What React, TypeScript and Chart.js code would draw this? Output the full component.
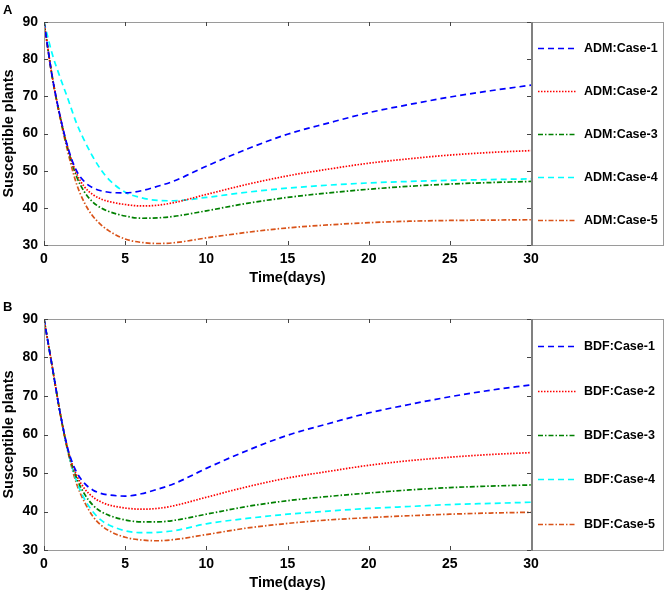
import React, { useRef, useEffect } from 'react';
import { Chart, registerables } from 'chart.js';

Chart.register(...registerables);

const days = [0, 0.5, 1, 1.5, 2, 2.5, 3, 3.5, 4, 5, 6, 7, 8, 10, 12.5, 15, 17.5, 20, 22.5, 25, 27.5, 30];
const xTicks = [0, 5, 10, 15, 20, 25, 30];
const yTicks = [30, 40, 50, 60, 70, 80, 90];

// panel A: ADM
const admCase1 = [90, 75.5, 64.5, 55.8, 50.0, 47.0, 45.4, 44.6, 44.2, 44.0, 44.6, 45.8, 47.2, 51.2, 55.8, 59.8, 62.8, 65.6, 67.8, 69.8, 71.5, 73.0];
const admCase2 = [90, 75.5, 64.5, 55.6, 49.3, 45.6, 43.6, 42.4, 41.7, 40.9, 40.5, 40.7, 41.4, 43.6, 46.3, 48.6, 50.4, 52.0, 53.2, 54.2, 54.9, 55.4];
const admCase3 = [90, 75.5, 64.4, 55.4, 48.5, 44.2, 41.6, 40.0, 39.0, 37.8, 37.2, 37.3, 37.7, 39.2, 41.2, 42.8, 44.0, 45.0, 45.8, 46.4, 46.8, 47.1];
const admCase4 = [90, 81.5, 75.0, 69.0, 62.8, 58.0, 53.8, 50.3, 47.6, 44.2, 42.7, 42.0, 41.9, 42.8, 44.2, 45.3, 46.1, 46.7, 47.1, 47.4, 47.6, 47.8];
const admCase5 = [90, 75.3, 64.0, 54.5, 46.5, 41.3, 37.8, 35.5, 33.8, 31.6, 30.7, 30.4, 30.6, 31.9, 33.4, 34.6, 35.4, 36.0, 36.4, 36.6, 36.7, 36.8];

// panel B: BDF
const bdfCase1 = [90, 77.8, 65.5, 55.8, 50.3, 47.3, 45.6, 44.7, 44.3, 44.0, 44.6, 45.8, 47.2, 51.2, 55.8, 59.8, 62.8, 65.6, 67.8, 69.8, 71.5, 72.9];
const bdfCase2 = [90, 77.8, 65.5, 55.6, 49.5, 45.9, 43.8, 42.5, 41.7, 40.9, 40.6, 40.8, 41.5, 43.7, 46.4, 48.7, 50.4, 52.0, 53.2, 54.1, 54.8, 55.3];
const bdfCase3 = [90, 77.8, 65.5, 55.4, 48.8, 44.5, 41.7, 40.0, 39.0, 37.8, 37.3, 37.3, 37.7, 39.3, 41.3, 42.8, 43.9, 44.8, 45.6, 46.2, 46.6, 46.9];
const bdfCase4 = [90, 77.8, 65.4, 55.2, 48.0, 43.2, 40.0, 37.8, 36.5, 35.0, 34.5, 34.6, 35.0, 36.8, 38.2, 39.3, 40.1, 40.8, 41.3, 41.8, 42.1, 42.4];
const bdfCase5 = [90, 77.8, 65.3, 55.0, 47.3, 42.4, 38.8, 36.5, 35.0, 33.3, 32.6, 32.4, 32.7, 34.0, 35.7, 36.9, 37.8, 38.4, 38.9, 39.3, 39.6, 39.8];

const caseNames = ['Case-1', 'Case-2', 'Case-3', 'Case-4', 'Case-5'];
const caseColors = ['#0000ff', '#ff0000', '#008000', '#00ffff', '#d95319'];
const caseDashes = [[6, 4], [1.5, 1.5], [5, 2, 1.5, 2], [6, 4], [5, 2, 1.5, 2]];

const FONT = '"Liberation Sans", Arial, sans-serif';
Chart.defaults.font.family = FONT;

const framePlugin = (letter: string) => ({
  id: 'frame',
  afterDraw(chart: any) {
    const { ctx, chartArea: a, scales } = chart;
    ctx.save();

    // plot frame
    ctx.strokeStyle = '#9a9a9a';
    ctx.lineWidth = 1;
    ctx.strokeRect(a.left + 0.5, a.top + 0.5, a.width, a.height);

    // inward ticks on all four sides
    ctx.strokeStyle = '#444';
    ctx.lineWidth = 1;
    ctx.beginPath();
    xTicks.forEach((v) => {
      const px = Math.round(scales.x.getPixelForValue(v)) + 0.5;
      ctx.moveTo(px, a.bottom);
      ctx.lineTo(px, a.bottom - 4);
      ctx.moveTo(px, a.top);
      ctx.lineTo(px, a.top + 4);
    });
    yTicks.forEach((v) => {
      const py = Math.round(scales.y.getPixelForValue(v)) + 0.5;
      ctx.moveTo(a.left, py);
      ctx.lineTo(a.left + 4, py);
      ctx.moveTo(a.right, py);
      ctx.lineTo(a.right - 4, py);
    });
    ctx.stroke();

    // legend box
    const lx = a.right + 1;
    const lw = chart.width - 3 - lx;
    ctx.strokeStyle = '#9a9a9a';
    ctx.strokeRect(lx + 0.5, a.top + 0.5, lw, a.height);
    ctx.strokeStyle = '#808080';
    ctx.lineWidth = 2;
    ctx.beginPath();
    ctx.moveTo(a.right + 1, a.top);
    ctx.lineTo(a.right + 1, a.bottom + 1);
    ctx.stroke();

    ctx.font = `bold 12.5px ${FONT}`;
    ctx.textBaseline = 'middle';
    ctx.textAlign = 'left';
    chart.data.datasets.forEach((ds: any, i: number) => {
      const y = Math.round(a.top + a.height * (0.118 + 0.192 * i)) + 0.5;
      ctx.strokeStyle = ds.borderColor;
      ctx.lineWidth = ds.borderWidth;
      ctx.setLineDash(ds.borderDash);
      ctx.beginPath();
      ctx.moveTo(lx + 6, y);
      ctx.lineTo(lx + 44, y);
      ctx.stroke();
      ctx.setLineDash([]);
      ctx.fillStyle = '#000';
      ctx.fillText(ds.label, lx + 52, y);
    });

    // panel letter
    ctx.font = `bold 13px ${FONT}`;
    ctx.fillText(letter, 3, 10);
    ctx.restore();
  },
});

type PanelProps = {
  letter: string;
  prefix: string;
  series: number[][];
  axisHeight: number;
  titlePad: number;
};

const Panel: React.FC<PanelProps> = ({ letter, prefix, series, axisHeight, titlePad }) => {
  const canvasRef = useRef<HTMLCanvasElement | null>(null);
  const chartRef = useRef<Chart | null>(null);

  useEffect(() => {
    const ctx = canvasRef.current?.getContext('2d');
    if (!ctx) return;
    if (chartRef.current) chartRef.current.destroy();

    chartRef.current = new Chart(ctx, {
      type: 'line',
      data: {
        datasets: series.map((vals, i) => ({
          label: `${prefix}:${caseNames[i]}`,
          data: days.map((d, j) => ({ x: d, y: vals[j] })),
          borderColor: caseColors[i],
          borderDash: caseDashes[i],
          borderWidth: 1.7,
          pointRadius: 0,
          fill: false,
          cubicInterpolationMode: 'monotone',
        })),
      },
      options: {
        animation: false,
        responsive: false,
        events: [],
        layout: { padding: { top: 22, right: 135, left: 0, bottom: 0 } },
        plugins: { legend: { display: false }, tooltip: { enabled: false } },
        scales: {
          x: {
            type: 'linear',
            min: 0,
            max: 30,
            afterFit: (s: any) => { s.height = axisHeight; },
            afterBuildTicks: (s: any) => { s.ticks = xTicks.map((v) => ({ value: v })); },
            grid: { display: false, drawTicks: false },
            border: { display: false },
            ticks: { color: '#000', padding: 6, maxRotation: 0, font: { size: 14, weight: 'bold' } },
            title: {
              display: true,
              text: 'Time(days)',
              color: '#000',
              font: { size: 14.5, weight: 'bold' },
              padding: { top: 0, bottom: titlePad },
            },
          },
          y: {
            min: 30,
            max: 90,
            afterFit: (s: any) => { s.width = 44; },
            afterBuildTicks: (s: any) => { s.ticks = yTicks.map((v) => ({ value: v })); },
            grid: { display: false, drawTicks: false },
            border: { display: false },
            ticks: { color: '#000', padding: 6, font: { size: 14, weight: 'bold' } },
            title: {
              display: true,
              text: 'Susceptible plants',
              color: '#000',
              font: { size: 14.5, weight: 'bold' },
              padding: { top: 0, bottom: 0 },
            },
          },
        },
      },
      plugins: [framePlugin(letter)],
    } as any);

    return () => {
      if (chartRef.current) {
        chartRef.current.destroy();
        chartRef.current = null;
      }
    };
  }, [letter, prefix, series, axisHeight, titlePad]);

  return <canvas ref={canvasRef} width={666} height={297} style={{ display: 'block' }} />;
};

const admSeries = [admCase1, admCase2, admCase3, admCase4, admCase5];
const bdfSeries = [bdfCase1, bdfCase2, bdfCase3, bdfCase4, bdfCase5];

const App: React.FC = () => (
  <div style={{ position: 'absolute', left: 0, top: 0, width: 666, height: 594, background: '#fff' }}>
    <Panel letter="A" prefix="ADM" series={admSeries} axisHeight={52} titlePad={10} />
    <Panel letter="B" prefix="BDF" series={bdfSeries} axisHeight={44} titlePad={2} />
  </div>
);

export default App;
